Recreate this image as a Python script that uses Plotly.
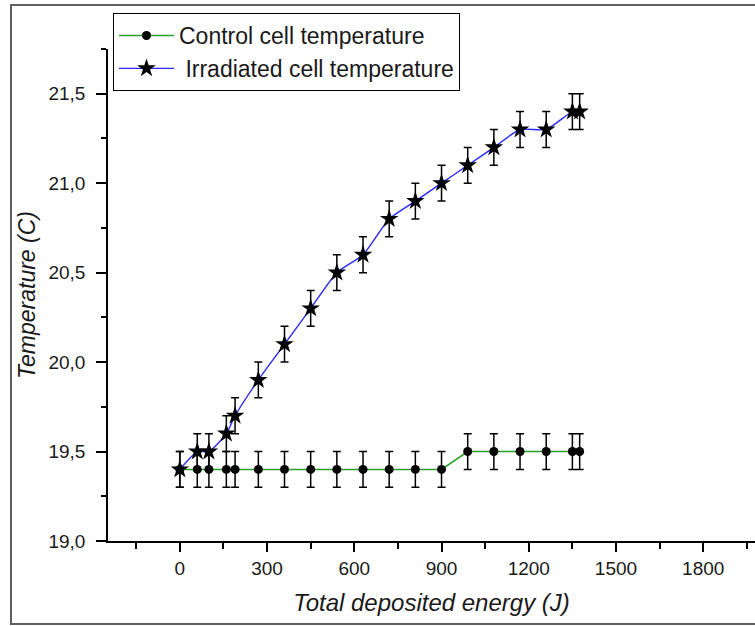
import plotly.graph_objects as go

# Data
energy = [0, 60, 100, 160, 190, 270, 360, 450, 540, 630, 720, 810, 900,
          990, 1080, 1170, 1260, 1350, 1375]
control_temp = [19.4, 19.4, 19.4, 19.4, 19.4, 19.4, 19.4, 19.4, 19.4, 19.4,
                19.4, 19.4, 19.4, 19.5, 19.5, 19.5, 19.5, 19.5, 19.5]
irradiated_temp = [19.4, 19.5, 19.5, 19.6, 19.7, 19.9, 20.1, 20.3, 20.5, 20.6,
                   20.8, 20.9, 21.0, 21.1, 21.2, 21.3, 21.3, 21.4, 21.4]
temp_error = 0.1

x_ticks = [0, 300, 600, 900, 1200, 1500, 1800]
y_ticks = [19.0, 19.5, 20.0, 20.5, 21.0, 21.5]
y_tick_labels = ["19,0", "19,5", "20,0", "20,5", "21,0", "21,5"]

FONT = "Liberation Sans, Arial, sans-serif"

fig = go.Figure()

err = dict(type="constant", value=temp_error, color="black", thickness=1.5, width=4)

fig.add_trace(go.Scatter(
    x=energy, y=control_temp, mode="lines+markers",
    name="Control cell temperature",
    line=dict(color="rgb(40,160,40)", width=1.6),
    marker=dict(symbol="circle", size=9, color="black"),
    error_y=err,
))
fig.add_trace(go.Scatter(
    x=energy, y=irradiated_temp, mode="lines+markers",
    name="\u00a0Irradiated cell temperature",
    line=dict(color="rgb(40,40,255)", width=1.4, shape="spline", smoothing=0.6),
    marker=dict(symbol="star", size=14, color="black"),
    error_y=err,
))

W, H = 755, 626
L, R, T, B = 108, 0, 49, 85
pw, ph = W - L - R, H - T - B

def px_x(p):
    return (p - L) / pw

def px_y(p):
    return (H - B - p) / ph

fig.update_layout(
    width=W, height=H,
    margin=dict(l=L, r=R, t=T, b=B),
    paper_bgcolor="white", plot_bgcolor="white",
    font=dict(family=FONT, color="#1a1a1a"),
    showlegend=True,
    legend=dict(
        x=px_x(113), y=px_y(13), xanchor="left", yanchor="top",
        bordercolor="black", borderwidth=1, bgcolor="white",
        font=dict(family=FONT, size=23, color="#1a1a1a"),
        itemwidth=55, tracegroupgap=0,
    ),
    xaxis=dict(
        range=[-247, 1978], showgrid=False, zeroline=False,
        showline=True, linecolor="black", linewidth=1.5,
        tickmode="array", tickvals=x_ticks,
        ticks="outside", ticklen=9, tickwidth=1.5, tickcolor="black",
        minor=dict(dtick=150, tick0=0, ticks="outside", ticklen=6,
                   tickwidth=1.5, tickcolor="black", showgrid=False),
        tickfont=dict(family=FONT, size=19, color="#1a1a1a"),
        title=dict(text="<i>Total deposited energy (J)</i>",
                   font=dict(family=FONT, size=24, color="#1a1a1a"), standoff=17),
    ),
    yaxis=dict(
        range=[19.0, 21.75], showgrid=False, zeroline=False,
        showline=True, linecolor="black", linewidth=1.5,
        tickmode="array", tickvals=y_ticks, ticktext=y_tick_labels,
        ticks="outside", ticklen=10, tickwidth=1.5, tickcolor="black",
        minor=dict(dtick=0.25, tick0=19.0, ticks="outside", ticklen=5,
                   tickwidth=1.5, tickcolor="black", showgrid=False),
        tickfont=dict(family=FONT, size=19, color="#1a1a1a"),
        ticklabelstandoff=7,
        title=dict(text="<i>Temperature (C)</i>",
                   font=dict(family=FONT, size=23, color="#1a1a1a"), standoff=6),
    ),
    shapes=[dict(type="rect", xref="paper", yref="paper",
                 x0=px_x(11), x1=px_x(W + 20), y0=px_y(624), y1=px_y(5),
                 line=dict(color="#606060", width=2), layer="below")],
)

fig.write_html("out.html")
